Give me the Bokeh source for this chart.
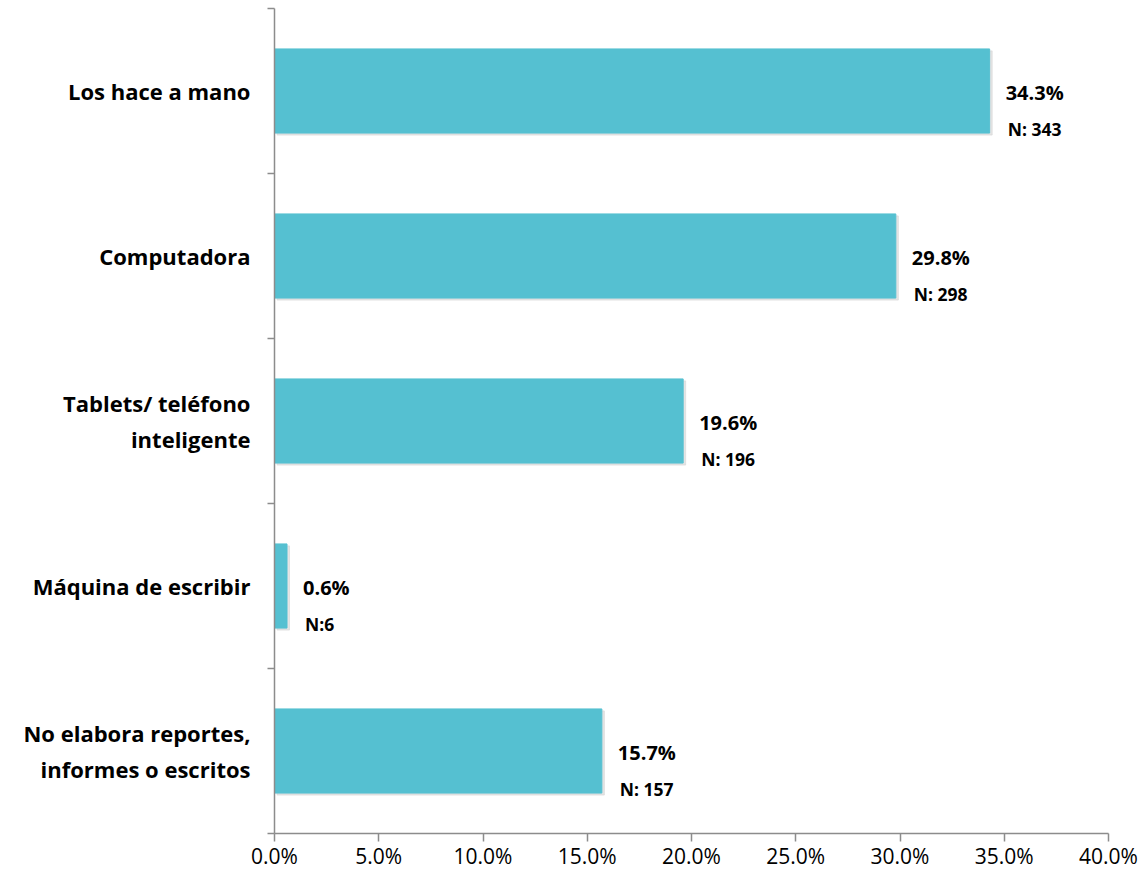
from bokeh.plotting import figure
from bokeh.models import Range1d, FixedTicker, PrintfTickFormatter, ColumnDataSource
from bokeh.core.properties import value
from bokeh.embed import file_html
from bokeh.resources import INLINE

categories = ["Los hace a mano", "Computadora", "Tablets/ teléfono\ninteligente",
              "Máquina de escribir", "No elabora reportes,\ninformes o escritos"]
percents = [34.3, 29.8, 19.6, 0.6, 15.7]
pct_labels = ["34.3%", "29.8%", "19.6%", "0.6%", "15.7%"]
n_labels = ["N: 343", "N: 298", "N: 196", "N:6", "N: 157"]
x_ticks = [0, 5, 10, 15, 20, 25, 30, 35, 40]

n = len(categories)
ypos = [n - i - 0.5 for i in range(n)]

src = ColumnDataSource(dict(y=ypos, v=percents, pct=pct_labels, nl=n_labels))

FONT = "Open Sans"
p = figure(frame_width=834, frame_height=825, min_border_left=274, min_border_right=33,
           min_border_top=8, min_border_bottom=40,
           x_range=Range1d(0, 40), y_range=Range1d(0, n),
           output_backend="svg", toolbar_location=None)
p.width = 274 + 834 + 33
p.height = 8 + 825 + 40

p.xgrid.visible = False
p.ygrid.visible = False
p.outline_line_color = None
p.background_fill_color = "white"

# shadow
p.hbar(y=[y - 0.012 for y in ypos], right=[v + 0.12 for v in percents], left=0.12,
       height=0.51, color="#d9d9d9", alpha=0.7)
p.hbar(y="y", right="v", left=0, height=0.51, color="#55C0D1", source=src)

p.text(x="v", y="y", text="pct", source=src, x_offset=16, y_offset=1,
       text_font=value(FONT), text_font_style="bold", text_font_size="20px",
       text_baseline="middle", text_align="left", text_color="black")
p.text(x="v", y="y", text="nl", source=src, x_offset=18, y_offset=38,
       text_font=value(FONT), text_font_style="bold", text_font_size="17.5px",
       text_baseline="middle", text_align="left", text_color="black")

xa = p.xaxis[0]
xa.ticker = FixedTicker(ticks=x_ticks)
xa.formatter = PrintfTickFormatter(format="%.1f%%")
xa.axis_line_color = "#8c8c8c"
xa.axis_line_width = 1.5
xa.major_tick_line_color = "#8c8c8c"
xa.major_tick_line_width = 1.5
xa.major_tick_out = 8
xa.major_tick_in = 0
xa.minor_tick_line_color = None
xa.major_label_text_font = FONT
xa.major_label_text_font_size = "21px"
xa.major_label_text_color = "black"
xa.major_label_standoff = 0

ya = p.yaxis[0]
ya.ticker = FixedTicker(ticks=ypos, minor_ticks=list(range(n + 1)))
ya.major_label_overrides = {y: c for y, c in zip(ypos, categories)}
ya.axis_line_color = "#8c8c8c"
ya.axis_line_width = 1.5
ya.major_tick_line_color = None
ya.minor_tick_line_color = "#8c8c8c"
ya.minor_tick_line_width = 1.5
ya.minor_tick_out = 7
ya.minor_tick_in = 0
ya.major_label_text_font = FONT
ya.major_label_text_font_style = "bold"
ya.major_label_text_font_size = "22px"
ya.major_label_text_color = "black"
ya.major_label_standoff = 17

open("out.html", "w").write(file_html(p, INLINE))
